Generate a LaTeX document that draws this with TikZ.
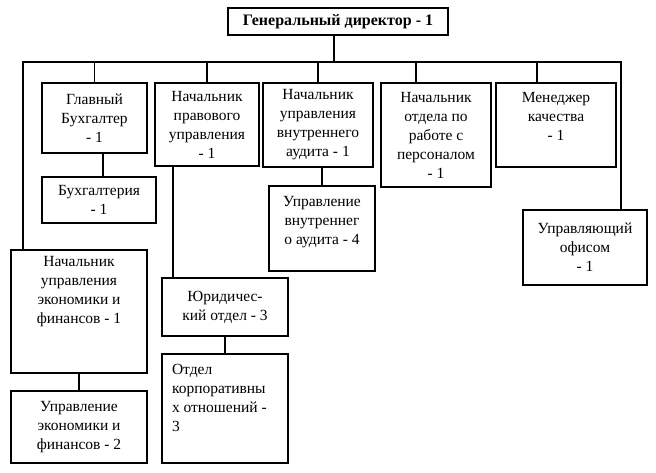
\documentclass[tikz,border=0pt]{standalone}
\usepackage{fontspec}
\setmainfont{Liberation Serif}
\tikzset{
    unit/.style={draw, line width=1.8pt, align=center, inner sep=0pt, font=\fontsize{15.5}{19}\selectfont},
    link/.style={line width=1.8pt},
}
\newcommand{\toptext}[4]{\parbox[c][#2][t]{#1}{#3\vspace{#4}\par}}
\begin{document}
\begin{tikzpicture}[x=1pt, y=-1pt]
    \useasboundingbox (0,0) rectangle (656,472);
    \node (top) [unit, minimum width=220pt, minimum height=27pt] at (338,21.5) {\fontsize{16}{19}\selectfont\textbf{Генеральный директор - 1}};
    \node (glav) [unit, minimum width=105pt, minimum height=70pt] at (94.5,118) {Главный\\Бухгалтер\\- 1};
    \node (prav) [unit, minimum width=104pt, minimum height=83pt] at (207,124.5) {Начальник\\правового\\управления\\- 1};
    \node (audit) [unit, minimum width=110pt, minimum height=84pt] at (318,125) {Начальник\\управления\\внутреннего\\аудита - 1};
    \node (pers) [unit, minimum width=110pt, minimum height=104pt] at (436,135) {Начальник\\отдела по\\работе с\\персоналом\\- 1};
    \node (kach) [unit] at (556,125) {\toptext{120pt}{84pt}{\centering\vspace*{9pt}Менеджер\\качества\\- 1}{0pt}};
    \node (buh) [unit, minimum width=114pt, minimum height=46pt] at (99,200) {Бухгалтерия\\- 1};
    \node (econ) [unit] at (79,311.5) {\toptext{136pt}{123pt}{\centering\vspace*{6pt}Начальник\\управления\\экономики и\\финансов - 1}{0pt}};
    \node (econ2) [unit, minimum width=136pt, minimum height=72pt] at (79,427) {Управление\\экономики и\\финансов - 2};
    \node (jur) [unit, minimum width=126pt, minimum height=58pt] at (225,307) {Юридичес-\\кий отдел - 3};
    \node (kor) [unit] at (225,408.5) {\toptext{126pt}{109pt}{\raggedright\leftskip=10pt\vspace*{10pt}Отдел\\корпоративны\\х отношений -\\3}{0pt}};
    \node (audit2) [unit] at (322,228.5) {\toptext{106pt}{85pt}{\centering\vspace*{10pt}Управление\\внутреннег\\о аудита - 4}{0pt}};
    \node (ofis) [unit, minimum width=124pt, minimum height=75pt] at (585,247.5) {Управляющий\\офисом\\- 1};
    % bus under the director
    \coordinate (busL) at (23,62);
    \coordinate (busR) at (621,62);
    \draw[link] ([xshift=-4pt]top.south) -- ([xshift=-4pt]top.south |- busL);
    \draw[link] (econ.north -| busL) -- (busL) -- (busR) -- (ofis.north -| busR);
    \foreach \n in {glav, prav, audit}
        \draw[link] (\n.north) -- (\n.north |- busL);
    \draw[link] ([xshift=-20pt]pers.north) -- ([xshift=-20pt]pers.north |- busL);
    \draw[link] ([xshift=-19pt]kach.north) -- ([xshift=-19pt]kach.north |- busL);
    % lower links
    \draw[link] ([xshift=4pt]buh.north) -- ([xshift=4pt]buh.north |- glav.south);
    \draw[link] ([xshift=-52pt]jur.north) -- ([xshift=-52pt]jur.north |- prav.south);
    \draw[link] (audit2.north) -- (audit2.north |- audit.south);
    \draw[link] (econ.south) -- (econ2.north);
    \draw[link] (jur.south) -- (kor.north);
\end{tikzpicture}
\end{document}
